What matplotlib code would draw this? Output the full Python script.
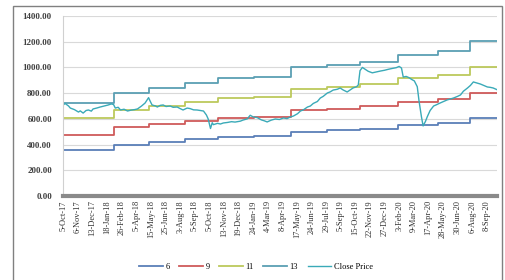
import matplotlib
matplotlib.use("Agg")
import matplotlib.pyplot as plt
from matplotlib.patches import Rectangle

# number of trading days (categories) on the x axis
n_days = 743
label_step = 25

tick_labels = [
    "5-Oct-17", "6-Nov-17", "13-Dec-17", "18-Jan-18", "26-Feb-18", "5-Apr-18",
    "15-May-18", "25-Jun-18", "3-Aug-18", "5-Sep-18", "5-Oct-18", "13-Nov-18",
    "19-Dec-18", "24-Jan-19", "4-Mar-19", "8-Apr-19", "17-May-19", "24-Jun-19",
    "29-Jul-19", "5-Sep-19", "15-Oct-19", "22-Nov-19", "27-Dec-19", "3-Feb-20",
    "9-Mar-20", "17-Apr-20", "28-May-20", "30-Jun-20", "6-Aug-20", "8-Sep-20",
]

# step series: day index where each level starts
step_starts = [0, 86, 146, 209, 265, 327, 389, 452, 508, 573, 642, 697]
s6 = [360, 400, 420, 440, 458, 463, 500, 510, 523, 550, 565, 603]
s9 = [478, 533, 560, 587, 610, 617, 667, 680, 697, 733, 753, 803]
s11 = [603, 667, 700, 733, 762, 771, 833, 850, 871, 917, 942, 1004]
s13 = [722, 800, 840, 880, 915, 925, 1000, 1020, 1045, 1100, 1130, 1205]

# close price (day index, price)
close_idx = [0, 3, 9, 12, 19, 26, 29, 34, 39, 43, 48, 51, 58, 63, 70, 77, 82, 86,
             89, 94, 98, 104, 110, 116, 122, 127, 134, 140, 146, 149, 152, 158,
             161, 166, 171, 176, 183, 188, 195, 200, 205, 212, 217, 223, 229, 235,
             240, 245, 248, 252, 255, 257, 264, 269, 274, 281, 288, 294, 303, 308,
             315, 320, 325, 332, 339, 344, 349, 356, 363, 370, 377, 383, 389, 394,
             401, 406, 411, 418, 423, 428, 435, 440, 445, 452, 457, 462, 469, 474,
             479, 486, 491, 496, 502, 505, 508, 512, 517, 522, 529, 536, 543, 550,
             556, 563, 570, 575, 579, 582, 587, 592, 597, 601, 606, 609, 613, 616,
             620, 623, 628, 634, 639, 645, 651, 657, 663, 668, 675, 680, 685, 692,
             697, 702, 707, 714, 721, 726, 731, 736, 742]
close_val = [708, 720, 700, 684, 672, 653, 662, 645, 665, 669, 660, 677, 685, 692,
             700, 708, 716, 712, 684, 690, 669, 675, 661, 668, 672, 677, 700, 723,
             765, 735, 708, 700, 692, 705, 708, 696, 700, 690, 692, 680, 669, 684,
             680, 670, 669, 665, 661, 630, 600, 525, 570, 555, 565, 560, 568, 572,
             578, 575, 582, 591, 600, 628, 615, 610, 592, 585, 576, 590, 599, 595,
             607, 602, 615, 622, 640, 661, 670, 692, 700, 720, 735, 762, 775, 801,
             810, 824, 830, 840, 825, 809, 825, 840, 850, 863, 975, 1000, 985, 970,
             958, 965, 972, 978, 985, 992, 998, 1008, 995, 925, 930, 920, 905, 895,
             850, 740, 620, 545, 580, 615, 665, 700, 710, 723, 735, 747, 755, 762,
             775, 786, 815, 840, 860, 887, 880, 871, 858, 848, 845, 840, 828]

colors = {"6": "#5a7fb8", "9": "#cf5a5a", "11": "#bcc95c", "13": "#5b9fb3",
          "Close Price": "#3aaab8"}

fig = plt.figure(figsize=(5.06, 2.8), dpi=100)
ax = fig.add_axes([63 / 506, 1 - 196 / 280, (497 - 63) / 506, 180 / 280])

xs = step_starts + [n_days - 1]
for name, vals in [("6", s6), ("9", s9), ("11", s11), ("13", s13)]:
    ax.step(xs, vals + [vals[-1]], where="post", color=colors[name], lw=1.3, label=name)
ax.plot(close_idx, close_val, color=colors["Close Price"], lw=1.0, label="Close Price")

ax.set_xlim(-0.5, n_days - 0.5)
ax.set_ylim(0, 1400)
ax.set_yticks(range(0, 1401, 200))
ax.set_yticklabels([f"{v:.2f}" for v in range(0, 1401, 200)],
                   fontsize=6.5, fontweight="bold", family="Liberation Serif", color="#404040")
ax.set_xticks(range(0, n_days, label_step))
ax.set_xticklabels(tick_labels, rotation=90, fontsize=6, family="Liberation Serif",
                   color="#303030")
ax.tick_params(length=0, pad=3)
ax.tick_params(axis="y", pad=8)
ax.grid(axis="y", color="#d9d9d9", lw=0.8)
ax.set_axisbelow(True)
for side in ["top", "right"]:
    ax.spines[side].set_visible(False)
ax.spines["left"].set_color("#d0d0d0")
ax.spines["bottom"].set_color("#8a8a8a")
ax.spines["bottom"].set_linewidth(3)

leg = fig.legend(loc="center", bbox_to_anchor=(256 / 506, 1 - 267 / 280), ncol=5,
                 frameon=False, prop={"family": "Liberation Serif", "size": 6},
                 handlelength=2.8, handletextpad=0.3, columnspacing=1.2)

fig.patches.append(Rectangle((13 / 506, -0.01), (502 - 13) / 506, 1.01 - 6 / 280,
                             transform=fig.transFigure, fill=False,
                             edgecolor="#808080", lw=1))

fig.savefig("out.png", dpi=100)
